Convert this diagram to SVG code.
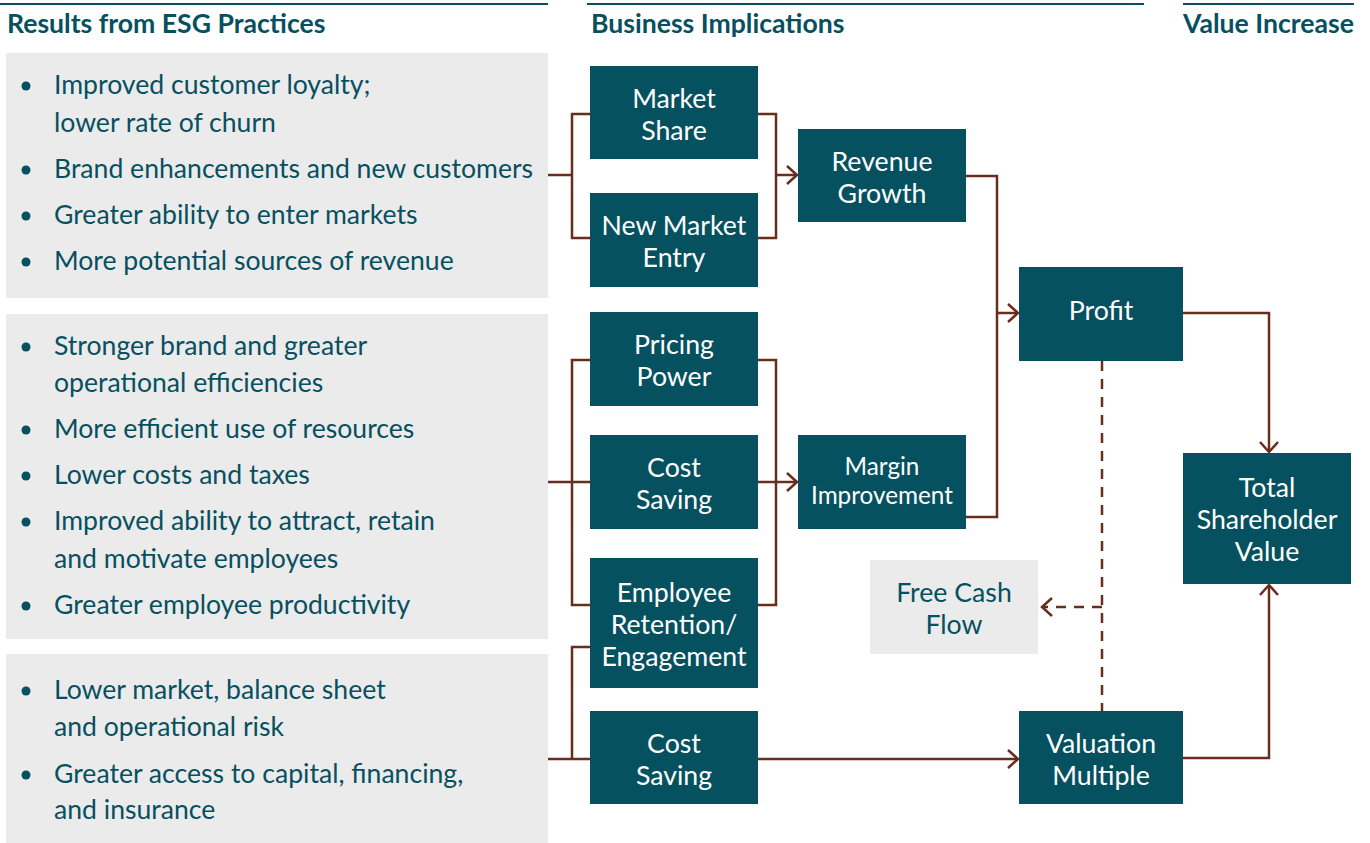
<svg xmlns="http://www.w3.org/2000/svg" width="1370" height="843" viewBox="0 0 1370 843">
<style>
.hdr{font-family:Lato,"Liberation Sans",sans-serif;font-weight:bold;font-size:26.6px;fill:#07505f}
.hl{stroke:#07505f;stroke-width:2}
.panel{fill:#ebebeb}
.bt{font-family:Lato,"Liberation Sans",sans-serif;font-size:26.6px;fill:#07505f}
.dot{fill:#07505f}
.box{fill:#06515f}
.nt{font-family:Lato,"Liberation Sans",sans-serif;font-size:26.7px;fill:#ffffff;text-anchor:middle}
.nts{font-size:24.3px}
.fcf{fill:#ebebeb}
.fct{font-family:Lato,"Liberation Sans",sans-serif;font-size:26.7px;fill:#07505f;text-anchor:middle}
.c{fill:none;stroke:#6a2c1c;stroke-width:2.5}
.d{stroke-dasharray:10 8}
</style>
<defs>
<marker id="arr" markerUnits="userSpaceOnUse" markerWidth="14" markerHeight="22" viewBox="0 0 14 22" refX="12" refY="11" orient="auto">
<path d="M2,2 L12,11 L2,20" fill="none" stroke="#6a2c1c" stroke-width="2.5"/>
</marker>
</defs>
<rect width="1370" height="843" fill="#ffffff"/>

<g id="headers">
<line class="hl" x1="0" y1="4" x2="548" y2="4"/>
<line class="hl" x1="587" y1="4" x2="1144" y2="4"/>
<line class="hl" x1="1183" y1="4" x2="1354" y2="4"/>
<text class="hdr" x="7" y="33">Results from ESG Practices</text>
<text class="hdr" x="591" y="33">Business Implications</text>
<text class="hdr" x="1183" y="33">Value Increase</text>
</g>

<g id="panel1">
<rect class="panel" x="6" y="53" width="542" height="245"/>
<circle class="dot" cx="26" cy="86" r="4.5"/>
<text class="bt" x="54" y="94">Improved customer loyalty;</text>
<text class="bt" x="54" y="132">lower rate of churn</text>
<circle class="dot" cx="26" cy="170" r="4.5"/>
<text class="bt" x="54" y="178">Brand enhancements and new customers</text>
<circle class="dot" cx="26" cy="216" r="4.5"/>
<text class="bt" x="54" y="224">Greater ability to enter markets</text>
<circle class="dot" cx="26" cy="262" r="4.5"/>
<text class="bt" x="54" y="270">More potential sources of revenue</text>
</g>

<g id="panel2">
<rect class="panel" x="6" y="314" width="542" height="325"/>
<circle class="dot" cx="26" cy="347" r="4.5"/>
<text class="bt" x="54" y="355">Stronger brand and greater</text>
<text class="bt" x="54" y="392">operational efficiencies</text>
<circle class="dot" cx="26" cy="430" r="4.5"/>
<text class="bt" x="54" y="438">More efficient use of resources</text>
<circle class="dot" cx="26" cy="476" r="4.5"/>
<text class="bt" x="54" y="484">Lower costs and taxes</text>
<circle class="dot" cx="26" cy="522" r="4.5"/>
<text class="bt" x="54" y="530">Improved ability to attract, retain</text>
<text class="bt" x="54" y="568">and motivate employees</text>
<circle class="dot" cx="26" cy="606" r="4.5"/>
<text class="bt" x="54" y="614">Greater employee productivity</text>
</g>

<g id="panel3">
<rect class="panel" x="6" y="654" width="542" height="189"/>
<circle class="dot" cx="26" cy="691" r="4.5"/>
<text class="bt" x="54" y="699">Lower market, balance sheet</text>
<text class="bt" x="54" y="736">and operational risk</text>
<circle class="dot" cx="26" cy="775" r="4.5"/>
<text class="bt" x="54" y="783">Greater access to capital, financing,</text>
<text class="bt" x="54" y="819">and insurance</text>
</g>

<g id="connectors">
<path class="c" d="M548,175 H572 M590,114 H572 V238 H590"/>
<path class="c" d="M758,114 H776 V238 H758"/>
<path class="c" d="M776,175 H797" marker-end="url(#arr)"/>
<path class="c" d="M548,482 H590 M590,360 H572 V605 H590"/>
<path class="c" d="M758,360 H776 V605 H758 M758,482 H776"/>
<path class="c" d="M776,482 H797" marker-end="url(#arr)"/>
<path class="c" d="M548,759 H590 M590,647 H572 V759"/>
<path class="c" d="M758,759 H1018" marker-end="url(#arr)"/>
<path class="c" d="M966,176 H997 V517 H966"/>
<path class="c" d="M997,313 H1018" marker-end="url(#arr)"/>
<path class="c" d="M1183,313 H1269 V452" marker-end="url(#arr)"/>
<path class="c" d="M1183,758 H1269 V585" marker-end="url(#arr)"/>
<path class="c d" d="M1102,361 V711"/>
<path class="c d" d="M1102,607 H1042" marker-end="url(#arr)"/>
</g>

<g id="n-market-share">
<rect class="box" x="590" y="66" width="168" height="93"/>
<text class="nt" x="674" y="108">Market</text>
<text class="nt" x="674" y="140">Share</text>
</g>
<g id="n-new-market-entry">
<rect class="box" x="590" y="193" width="168" height="94"/>
<text class="nt" x="674" y="235">New Market</text>
<text class="nt" x="674" y="267">Entry</text>
</g>
<g id="n-revenue-growth">
<rect class="box" x="798" y="129" width="168" height="93"/>
<text class="nt" x="882" y="171">Revenue</text>
<text class="nt" x="882" y="203">Growth</text>
</g>
<g id="n-pricing-power">
<rect class="box" x="590" y="312" width="168" height="94"/>
<text class="nt" x="674" y="354">Pricing</text>
<text class="nt" x="674" y="386">Power</text>
</g>
<g id="n-cost-saving-1">
<rect class="box" x="590" y="435" width="168" height="94"/>
<text class="nt" x="674" y="477">Cost</text>
<text class="nt" x="674" y="509">Saving</text>
</g>
<g id="n-employee">
<rect class="box" x="590" y="558" width="168" height="130"/>
<text class="nt" x="674" y="602">Employee</text>
<text class="nt" x="674" y="634">Retention/</text>
<text class="nt" x="674" y="666">Engagement</text>
</g>
<g id="n-cost-saving-2">
<rect class="box" x="590" y="711" width="168" height="93"/>
<text class="nt" x="674" y="753">Cost</text>
<text class="nt" x="674" y="785">Saving</text>
</g>
<g id="n-margin-improvement">
<rect class="box" x="798" y="435" width="168" height="94"/>
<text class="nt nts" x="882" y="475">Margin</text>
<text class="nt nts" x="882" y="504">Improvement</text>
</g>
<g id="n-profit">
<rect class="box" x="1019" y="267" width="164" height="94"/>
<text class="nt" x="1101" y="320">Profit</text>
</g>
<g id="n-free-cash-flow">
<rect class="fcf" x="870" y="560" width="168" height="94"/>
<text class="fct" x="954" y="602">Free Cash</text>
<text class="fct" x="954" y="634">Flow</text>
</g>
<g id="n-valuation-multiple">
<rect class="box" x="1019" y="711" width="164" height="93"/>
<text class="nt" x="1101" y="753">Valuation</text>
<text class="nt" x="1101" y="785">Multiple</text>
</g>
<g id="n-total-shareholder-value">
<rect class="box" x="1183" y="453" width="168" height="131"/>
<text class="nt" x="1267" y="497">Total</text>
<text class="nt" x="1267" y="529">Shareholder</text>
<text class="nt" x="1267" y="561">Value</text>
</g>
</svg>
